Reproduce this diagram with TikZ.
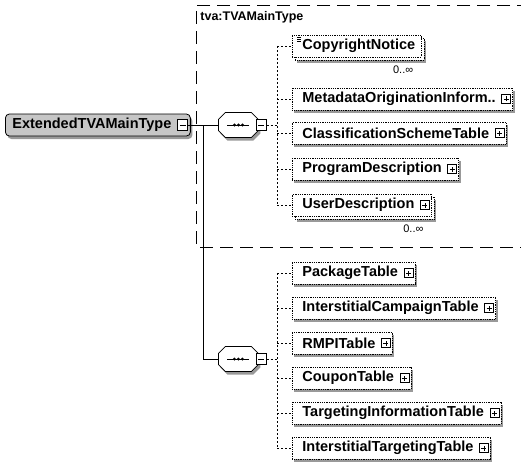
\documentclass[tikz,border=0pt]{standalone}
\usepackage{fontspec}
\setmainfont{Liberation Sans}
\usetikzlibrary{positioning}
\usetikzlibrary{shadows}

% octagon of a choice compositor, drawn round a node
\newcommand{\choiceoct}[1]{%
  \begin{scope}[shift={(#1.center)}]
    \fill[gray!80, shift={(2pt,-3pt)}] (-13pt,12.5pt) -- (13pt,12.5pt) -- (20pt,5.5pt) -- (20pt,-5.5pt)
      -- (13pt,-12.5pt) -- (-13pt,-12.5pt) -- (-20pt,-5.5pt) -- (-20pt,5.5pt) -- cycle;
    \draw[solid, fill=white] (-13pt,12.5pt) -- (13pt,12.5pt) -- (20pt,5.5pt) -- (20pt,-5.5pt)
      -- (13pt,-12.5pt) -- (-13pt,-12.5pt) -- (-20pt,-5.5pt) -- (-20pt,5.5pt) -- cycle;
    \draw (-11pt,0pt) -- (11pt,0pt);
    \fill (-4pt,0pt) circle [radius=1.6pt] (0pt,0pt) circle [radius=1.6pt] (4pt,0pt) circle [radius=1.6pt];
  \end{scope}}

\tikzset{
  elem/.style={draw, densely dotted, fill=white, anchor=west, minimum height=22pt,
    inner xsep=6pt, inner ysep=0pt, font=\bfseries\fontsize{14.5}{17}\selectfont,
    execute at begin node={\hspace*{4pt}}},
  one/.style={general shadow={shadow xshift=2pt, shadow yshift=-3pt, fill=gray!80}},
  many/.style={general shadow={shadow xshift=5pt, shadow yshift=-6pt, fill=gray!80},
    general shadow={shadow xshift=3pt, shadow yshift=-3pt, draw, densely dotted, fill=white}},
  plus/.style={execute at end node={\hspace*{11pt}},
    path picture={
      \draw[solid, line width=0.7pt, fill=white] ([xshift=-11pt,yshift=-4.5pt]path picture bounding box.east) rectangle ++(9pt,9pt);
      \draw[solid, line width=0.7pt] ([xshift=-9pt]path picture bounding box.east) -- ++(5pt,0)
        ([xshift=-6.5pt,yshift=-2.5pt]path picture bounding box.east) -- ++(0,5pt);}},
  simple/.style={path picture={
      \draw[solid, line width=0.5pt] ([xshift=5pt,yshift=-2pt]path picture bounding box.north west) -- ++(4pt,0)
        ([xshift=5pt,yshift=-4pt]path picture bounding box.north west) -- ++(4pt,0)
        ([xshift=5pt,yshift=-6pt]path picture bounding box.north west) -- ++(4pt,0);}},
  root/.style={draw, rounded corners=4pt, fill=gray!45, anchor=west, minimum height=22pt,
    inner xsep=7pt, inner ysep=0pt, font=\bfseries\fontsize{14.5}{17}\selectfont,
    execute at end node={\hspace*{12pt}},
    general shadow={shadow xshift=2pt, shadow yshift=-3pt, fill=gray!80}},
  choice/.style={anchor=west, minimum width=40pt, minimum height=25pt, inner sep=0pt,
    append after command={\pgfextra{\choiceoct{\tikzlastnode}}}},
  minus/.style={draw, solid, fill=white, minimum width=10pt, minimum height=11pt, inner sep=0pt,
    path picture={\draw ([xshift=-3pt]path picture bounding box.center) -- ([xshift=3pt]path picture bounding box.center);}},
  mult/.style={anchor=north east, inner sep=0pt, font=\fontsize{11}{12}\selectfont},
  tie/.style={line width=0.8pt},
  link/.style={dash pattern=on 2pt off 2pt, line width=0.8pt},
  grp/.style={dash pattern=on 13pt off 7pt, line width=0.8pt}
}

\begin{document}
\begin{tikzpicture}[x=1pt, y=-1pt, line width=0.8pt]
  \useasboundingbox (0,0) rectangle (521,468);

  % group frame
  \draw[grp] (530,5) -| (196,247) -- (530,247);
  \node[anchor=west, inner sep=0pt, font=\bfseries\fontsize{12.5}{14}\selectfont] (grpname) at (200,17) {tva:TVAMainType};

  % root and the two choices
  \node[root] (root) at (5,125) {ExtendedTVAMainType};
  \node[minus] (rootm) at ([xshift=-8pt]root.east) {};
  \node[choice] (ch1) at (218,125) {};
  \node[minus, right=-3pt of ch1] (ch1m) {};
  \node[choice] (ch2) at (218,359) {};
  \node[minus, right=-3pt of ch2] (ch2m) {};

  % children of tva:TVAMainType
  \node[elem, many, simple] (copy) at (292,46) {CopyrightNotice};
  \node[elem, one, plus] (meta) at (292,99) {MetadataOriginationInform..};
  \node[elem, one, plus] (class) at (292,133) {ClassificationSchemeTable};
  \node[elem, one, plus] (prog) at (292,169) {ProgramDescription};
  \node[elem, many, plus] (user) at (292,205) {UserDescription};
  \node[mult] (copym) at ([xshift=-8pt,yshift=-8pt]copy.south east) {0..∞};
  \node[mult] (userm) at ([xshift=-8pt,yshift=-8pt]user.south east) {0..∞};

  % extension children
  \node[elem, one, plus] (pkg) at (292,273) {PackageTable};
  \node[elem, one, plus] (icamp) at (292,308) {InterstitialCampaignTable};
  \node[elem, one, plus] (rmpi) at (292,343) {RMPITable};
  \node[elem, one, plus] (coupon) at (292,378) {CouponTable};
  \node[elem, one, plus] (target) at (292,413) {TargetingInformationTable};
  \node[elem, one, plus] (itarget) at (292,448) {InterstitialTargetingTable};

  % connectors
  \coordinate (rj) at (203,125);
  \coordinate (j1) at (277,125);
  \coordinate (j2) at (277,359);
  \draw[tie] (rootm.east) -- (ch1.west);
  \draw[tie] (rj) |- (ch2.west);
  \draw[link] (ch1m.east) -- (j1);
  \draw[link] (ch2m.east) -- (j2);
  \draw[link] (j1 |- copy.west) -- (j1 |- user.west);
  \draw[link] (j2 |- pkg.west) -- (j2 |- itarget.west);
  \draw[link] (j1 |- copy.west) -- (copy.west);
  \draw[link] (j1 |- meta.west) -- (meta.west);
  \draw[link] (j1 |- class.west) -- (class.west);
  \draw[link] (j1 |- prog.west) -- (prog.west);
  \draw[link] (j1 |- user.west) -- (user.west);
  \draw[link] (j2 |- pkg.west) -- (pkg.west);
  \draw[link] (j2 |- icamp.west) -- (icamp.west);
  \draw[link] (j2 |- rmpi.west) -- (rmpi.west);
  \draw[link] (j2 |- coupon.west) -- (coupon.west);
  \draw[link] (j2 |- target.west) -- (target.west);
  \draw[link] (j2 |- itarget.west) -- (itarget.west);
\end{tikzpicture}
\end{document}
